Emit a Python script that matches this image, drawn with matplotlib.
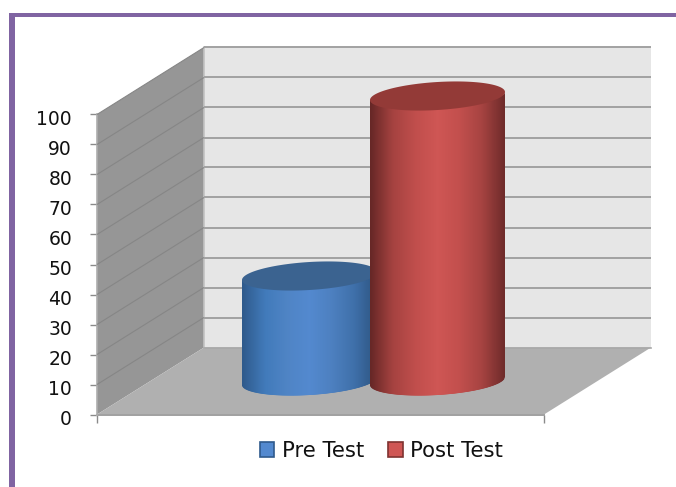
import numpy as np
import matplotlib
matplotlib.use("Agg")
import matplotlib.pyplot as plt
from matplotlib.colors import LinearSegmentedColormap
from matplotlib.patches import Patch, Polygon, Rectangle
from matplotlib.transforms import ScaledTranslation

# ---- chart data ----
series_names = ["Pre Test", "Post Test"]
series_values = [35, 95]
series_x = [159, 287]          # position along the category axis (0..447)
y_ticks = [0, 10, 20, 30, 40, 50, 60, 70, 80, 90, 100]

W, H = 676, 487
fig = plt.figure(figsize=(W / 100, H / 100), dpi=100, facecolor="white")
plt.rcParams["font.family"] = "DejaVu Sans"

# purple frame
frame = "#8064a2"
fig.add_artist(Rectangle((9 / W, 0), 6 / W, (H - 13) / H, transform=fig.transFigure, fc=frame, ec="none"))
fig.add_artist(Rectangle((9 / W, (H - 17) / H), (W - 9) / W, 4 / H, transform=fig.transFigure, fc=frame, ec="none"))

# front plane of the 3D box: 1 x unit = 1 px, 100 y units = 300 px
ax = fig.add_axes([97 / W, (H - 414.5) / H, 447 / W, 300 / H])
XMAX = 447
ax.set_xlim(0, XMAX)
ax.set_ylim(0, 100)
ax.patch.set_visible(False)
for s in ax.spines.values():
    s.set_visible(False)

DX, DY = 107, 67 / 3      # depth offset of the back wall, in data units


def proj(x, v, d):
    return x + DX * d, v + DY * d


def poly(points, **kw):
    p = Polygon(points, closed=True, clip_on=False, **kw)
    ax.add_patch(p)
    return p


# walls and floor
poly([proj(0, 0, 1), proj(XMAX, 0, 1), proj(XMAX, 100, 1), proj(0, 100, 1)], fc="#e6e6e6", ec="none", zorder=1)
poly([proj(0, 0, 0), proj(0, 0, 1), proj(0, 100, 1), proj(0, 100, 0)], fc="#969696", ec="none", zorder=1)
poly([proj(0, 0, 0), proj(XMAX, 0, 0), proj(XMAX, 0, 1), proj(0, 0, 1)], fc="#b0b0b0", ec="none", zorder=1)
ax.plot([0, XMAX], [-0.3, -0.3], color="#a0a0a0", lw=1.4, zorder=2, clip_on=False)
ax.plot([0, 0], [0, 100], color="#aeaeae", lw=1.2, zorder=2, clip_on=False)
ax.plot([DX, DX], [DY, 100 + DY], color="#c2c2c2", lw=1.2, zorder=2, clip_on=False)
ax.plot([DX, DX + XMAX], [DY, DY], color="#a8a8a8", lw=1.2, zorder=2, clip_on=False)

# gridlines
for v in y_ticks[1:]:
    xs, ys = zip(proj(0, v, 0), proj(0, v, 1), proj(XMAX, v, 1))
    ax.plot(xs[:2], ys[:2], color="#868686", lw=0.8, zorder=2, clip_on=False, solid_capstyle="butt")
    ax.plot(xs[1:], ys[1:], color="#a2a2a2", lw=1.4, zorder=2, clip_on=False, solid_capstyle="butt")

# cylinders
A, B, S = 67.5, 14 / 3, 4 / 3
styles = [
    (["#2c5480", "#3f70aa", "#4d80c0", "#5389cf", "#4f84c5", "#417aba", "#2f5a8c"], "#3b6390", "#2f5a8c"),
    (["#6f2b2a", "#a64341", "#c24f4d", "#cf5654", "#c04e4c", "#a54240", "#672726"], "#933a37", "#7f3230"),
]


def rim(cx, cy, t):
    return np.column_stack([cx + A * np.cos(t), cy + B * np.sin(t) + S * np.cos(t)])


for i, (name, val, x0) in enumerate(zip(series_names, series_values, series_x)):
    cx, base = proj(x0, 0, 0.5)
    top = base + val
    z = 5 + i * 2
    cmap = LinearSegmentedColormap.from_list(name, styles[i][0])
    # the side surface, drawn as overlapping thin slices following the lower rim
    t = -np.arccos(np.linspace(-1, 1, 137))[::-1]
    low = rim(cx, base, t)
    n = len(low)
    for k in range(n - 1):
        a = low[k]
        b = low[-1] if k == n - 2 else low[k + 1]
        # each slice runs on to the right end, the next one covers it
        end = low[-1]
        c = cmap(k / (n - 2))
        poly([a, b, end, (end[0], end[1] + val), (b[0], b[1] + val), (a[0], a[1] + val)],
             fc=c, ec="none", zorder=z + k * 1e-3)
    cap = rim(cx, top, np.linspace(0, 2 * np.pi, 120))
    poly(cap, fc=styles[i][1], ec="none", zorder=z + 1)

ax.set_xlim(0, XMAX)
ax.set_ylim(0, 100)

# axes ticks
ax.set_yticks(y_ticks)
ax.set_yticklabels([str(v) for v in y_ticks])
ax.set_xticks([0, XMAX])
ax.set_xticklabels(["", ""])
ax.tick_params(axis="y", length=5, width=1, color="#8a8a8a", labelsize=13.5, labelcolor="#111111", pad=13)
ax.tick_params(axis="x", length=5.5, width=1, color="#8a8a8a")
down = ScaledTranslation(0, -2.5 / 72, fig.dpi_scale_trans)
for lab in ax.get_yticklabels():
    lab.set_transform(lab.get_transform() + down)

# legend
handles = [Patch(fc=styles[0][0][3], ec=styles[0][2], lw=1.2, label=series_names[0]),
           Patch(fc=styles[1][0][3], ec=styles[1][2], lw=1.2, label=series_names[1])]
ax.legend(handles=handles, loc="center", bbox_to_anchor=(381.5 / W, (H - 451) / H),
          bbox_transform=fig.transFigure, ncols=2, frameon=False, fontsize=15.2,
          handlelength=0.68, handleheight=0.68, handletextpad=0.35, columnspacing=1.15,
          labelcolor="#111111")

fig.savefig("out.png", dpi=100)
